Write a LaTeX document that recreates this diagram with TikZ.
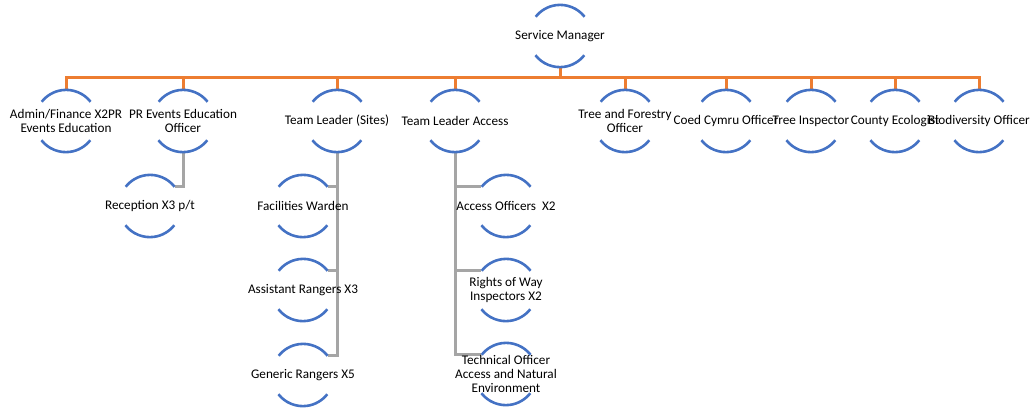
\documentclass[tikz,border=0pt]{standalone}
\usepackage{fontspec}
\setmainfont{Carlito}
\usetikzlibrary{positioning}
\usetikzlibrary{backgrounds}
\definecolor{arcblue}{RGB}{68,114,196}
\definecolor{busorange}{RGB}{237,125,49}
\definecolor{linkgray}{RGB}{165,165,165}
\tikzstyle{role}=[circle,minimum size=62pt,inner sep=0pt]
\tikzstyle{roletext}=[align=center,inner sep=0pt,font=\fontsize{13.2}{14}\selectfont]
\tikzstyle{rolearc}=[draw=arcblue,line width=2.6pt]
\tikzstyle{headline}=[draw=busorange,line width=3pt]
\tikzstyle{staffline}=[draw=linkgray,line width=3pt]

\begin{document}
\begin{tikzpicture}[x=1pt,y=-1pt]
    \useasboundingbox (0,0) rectangle (1031,408);

    \node[role,label={[roletext]center:Service Manager}] (sm) at (560,36) {};
    \coordinate (bus) at (560,77.5);

    % first row
    \foreach \pos/\name/\txt in {{(66,121)/adm/{Admin/Finance X2PR\\Events Education}},
        {(183,121)/pr/{PR Events Education\\Officer}}, {(337,121)/tls/Team Leader (Sites)},
        {(455,121)/tla/Team Leader Access}, {(625,121)/tfo/{Tree and Forestry\\Officer}},
        {(726,121)/coed/Coed Cymru Officer}, {(811,121)/ti/Tree Inspector},
        {(895,121)/eco/County Ecologist}, {(979,121)/bio/Biodiversity Officer}}
        \node[role,label={[roletext]center:\txt}] (\name) at \pos {};

    % staff
    \foreach \pos/\name/\txt in {{(150,206)/rec/{Reception X3 p/t}},
        {(303,206)/fw/Facilities Warden}, {(303,290)/ar/Assistant Rangers X3},
        {(303,375)/gr/Generic Rangers X5}, {(506,206)/ao/Access Officers~ X2},
        {(506,290)/row/{Rights of Way\\Inspectors X2}},
        {(506,374)/tech/{Technical Officer\\Access and Natural\\Environment}}}
        \node[role,label={[roletext]center:\txt}] (\name) at \pos {};

    \foreach \name in {sm,adm,pr,tls,tla,tfo,coed,ti,eco,bio,rec,fw,ar,gr,ao,row,tech}
        \draw[rolearc] (\name.38) arc[start angle=38,end angle=142,radius=31pt]
            (\name.218) arc[start angle=218,end angle=322,radius=31pt];

    \begin{pgfonlayer}{background}
    \foreach \dest in {adm,pr,tls,tla,tfo,coed,ti,eco,bio}
        \path[headline] (sm.south) -- (bus) -| (\dest.north);

    \foreach \source/\dest in {pr/rec, tls/fw, tls/ar, tls/gr}
        \path[staffline] (\source.south) |- (\dest.38);
    \foreach \source/\dest in {tla/ao, tla/row, tla/tech}
        \path[staffline] (\source.south) |- (\dest.142);
    \end{pgfonlayer}
\end{tikzpicture}
\end{document}
